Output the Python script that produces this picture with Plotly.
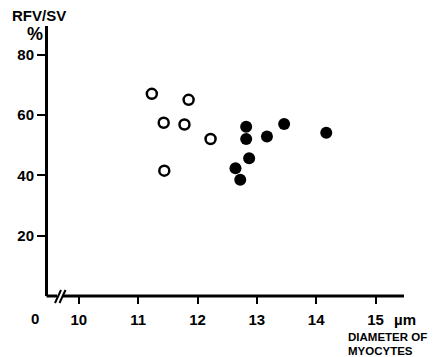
import plotly.graph_objects as go

# Data
open_x = [11.23, 11.85, 11.43, 11.78, 12.22, 11.44]
open_y = [67.1, 65.1, 57.5, 56.9, 52.1, 41.6]
filled_x = [12.82, 13.46, 14.17, 12.82, 13.17, 12.87, 12.64, 12.72]
filled_y = [56.2, 57.1, 54.2, 52.1, 52.9, 45.7, 42.4, 38.6]
x_ticks = [10, 11, 12, 13, 14, 15]
x_ticktext = ["10", "11", "12", "13", "14", "15"]
y_ticks = [20, 40, 60, 80]

FONT = "Liberation Sans, Arial, sans-serif"

fig = go.Figure()
fig.add_trace(go.Scatter(
    x=open_x, y=open_y, mode="markers",
    marker=dict(symbol="circle-open", size=10, color="black", line=dict(width=2.5, color="black")),
    showlegend=False))
fig.add_trace(go.Scatter(
    x=filled_x, y=filled_y, mode="markers",
    marker=dict(symbol="circle", size=12, color="black"),
    showlegend=False))

W, H = 443, 357
L, R, T, B = 48, 404, 26, 296
pw, ph = R - L, B - T

def px(x):
    return (x - L) / pw

def py(y):
    return (B - y) / ph

fig.update_layout(
    width=W, height=H,
    margin=dict(l=L, r=W - R, t=T, b=H - B),
    paper_bgcolor="white", plot_bgcolor="white",
    font=dict(family=FONT, size=15, color="black"),
    xaxis=dict(range=[9.48, 15.48], tickvals=x_ticks, ticktext=x_ticktext,
               showgrid=False, zeroline=False, showline=False,
               ticks="outside", ticklen=7, tickwidth=2, tickcolor="black",
               ticklabelstandoff=3,
               tickfont=dict(family=FONT, size=15, color="black", weight="bold")),
    yaxis=dict(range=[0, 89.6], tickvals=y_ticks,
               showgrid=False, zeroline=False, showline=True, linewidth=3, linecolor="black",
               ticks="outside", ticklen=8, tickwidth=2, tickcolor="black",
               tickfont=dict(family=FONT, size=15, color="black", weight="bold")),
)

# x-axis line with break marks
shapes = [
    dict(type="line", xref="paper", yref="paper", x0=px(46.5), x1=px(57), y0=0, y1=0,
         line=dict(color="black", width=3)),
    dict(type="line", xref="paper", yref="paper", x0=px(63), x1=1, y0=0, y1=0,
         line=dict(color="black", width=3)),
    dict(type="line", xref="paper", yref="paper", x0=px(55), x1=px(61), y0=py(303), y1=py(290),
         line=dict(color="black", width=2)),
    dict(type="line", xref="paper", yref="paper", x0=px(59.5), x1=px(65.5), y0=py(303), y1=py(290),
         line=dict(color="black", width=2)),
]
fig.update_layout(shapes=shapes)

bold = dict(family=FONT, color="black", weight="bold")
ann = [
    dict(text="RFV/SV", x=px(39), y=py(15), font=dict(size=15, **bold)),
    dict(text="%", x=px(35), y=py(34), font=dict(size=18, **bold)),
    dict(text="0", x=px(35), y=py(318), font=dict(size=15, **bold)),
    dict(text="µm", x=px(392), y=py(319), xanchor="left", font=dict(size=15, **bold)),
    dict(text="DIAMETER OF", x=px(346), y=py(337), xanchor="left", font=dict(size=11.5, **bold)),
    dict(text="MYOCYTES", x=px(346), y=py(351), xanchor="left", font=dict(size=11.5, **bold)),
]
for a in ann:
    a.setdefault("xanchor", "center")
    fig.add_annotation(xref="paper", yref="paper", showarrow=False, yanchor="middle", **a)

fig.write_html("out.html", config={"displayModeBar": False},
               post_script="document.body.style.margin='0px';document.body.style.overflow='hidden';")
